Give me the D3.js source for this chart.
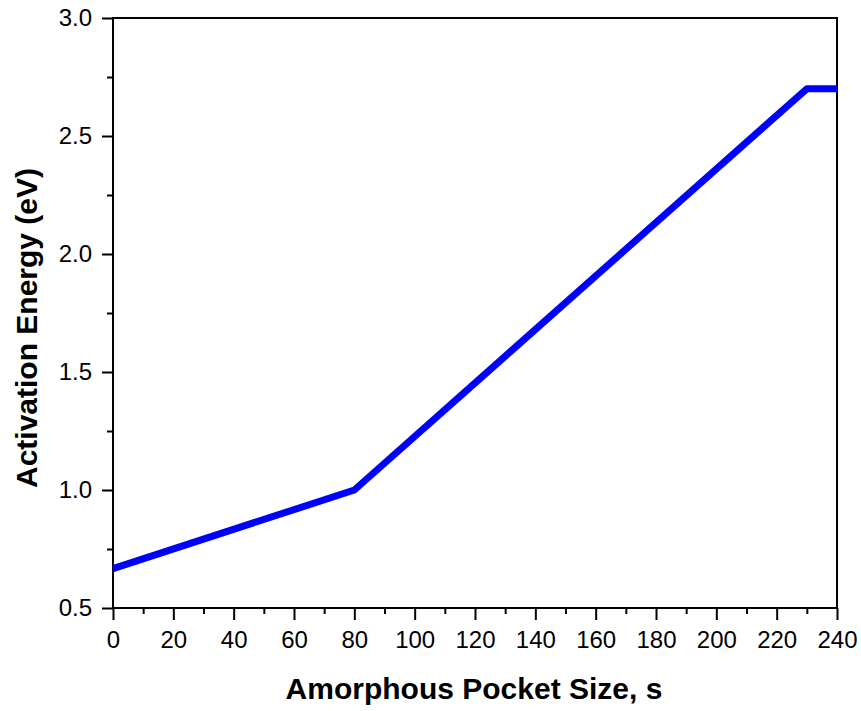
<!DOCTYPE html>
<html>
<head>
<meta charset="utf-8">
<script src="https://cdn.jsdelivr.net/npm/d3@7/dist/d3.min.js"></script>
<style>
  html, body { margin: 0; padding: 0; background: #fff; }
  svg { display: block; }
  text { font-family: "Liberation Sans", Arial, sans-serif; fill: #000; }
</style>
</head>
<body>
<svg id="chart" width="861" height="711"></svg>
<script>
// Activation energy vs. amorphous pocket size (piecewise linear)
const pocketSize = [0, 80, 230, 240];
const activationEnergy = [0.667, 1.0, 2.7, 2.7];

const xTicks = [0, 20, 40, 60, 80, 100, 120, 140, 160, 180, 200, 220, 240];
const xMinorTicks = [10, 30, 50, 70, 90, 110, 130, 150, 170, 190, 210, 230];
const yTicks = [0.5, 1.0, 1.5, 2.0, 2.5, 3.0];
const yMinorTicks = [0.75, 1.25, 1.75, 2.25, 2.75];

const margin = { left: 113, top: 18, right: 861 - 837, bottom: 711 - 608 };
const width = 861, height = 711;
const svg = d3.select("#chart");

const x = d3.scaleLinear().domain([0, 240]).range([margin.left, width - margin.right]);
const y = d3.scaleLinear().domain([0.5, 3.0]).range([height - margin.bottom, margin.top]);

// frame
svg.append("rect")
  .attr("x", x(0)).attr("y", y(3.0))
  .attr("width", x(240) - x(0)).attr("height", y(0.5) - y(3.0))
  .attr("fill", "none").attr("stroke", "#000").attr("stroke-width", 2);

// bottom axis
svg.append("g").attr("transform", `translate(0,${y(0.5)})`)
  .call(d3.axisBottom(x).tickValues(xTicks).tickSize(12).tickPadding(11).tickFormat(d3.format("d")));
svg.append("g").attr("transform", `translate(0,${y(0.5)})`)
  .call(d3.axisBottom(x).tickValues(xMinorTicks).tickSize(6).tickFormat(""));

// left axis
svg.append("g").attr("transform", `translate(${x(0)},0)`)
  .call(d3.axisLeft(y).tickValues(yTicks).tickSize(11).tickPadding(10).tickFormat(d3.format(".1f")));
svg.append("g").attr("transform", `translate(${x(0)},0)`)
  .call(d3.axisLeft(y).tickValues(yMinorTicks).tickSize(6).tickFormat(""));

svg.selectAll(".domain").remove();
svg.selectAll(".tick line").attr("stroke", "#000").attr("stroke-width", 2);
svg.selectAll(".tick text")
  .style("font-family", "'Liberation Sans', Arial, sans-serif")
  .style("font-size", "24px").attr("fill", "#000");

// data line
const pts = pocketSize.map((s, i) => [s, activationEnergy[i]]);
svg.append("path")
  .datum(pts)
  .attr("fill", "none")
  .attr("stroke", "#0000ff")
  .attr("stroke-width", 7)
  .attr("stroke-linejoin", "round")
  .attr("d", d3.line().x(d => x(d[0])).y(d => y(d[1])));

// axis titles
svg.append("text")
  .attr("x", 474).attr("y", 699)
  .attr("text-anchor", "middle")
  .style("font-weight", "bold").style("font-size", "30px")
  .text("Amorphous Pocket Size, s");

svg.append("text")
  .attr("transform", `translate(37,328) rotate(-90)`)
  .attr("text-anchor", "middle")
  .style("font-weight", "bold").style("font-size", "30px")
  .text("Activation Energy (eV)");
</script>
</body>
</html>
